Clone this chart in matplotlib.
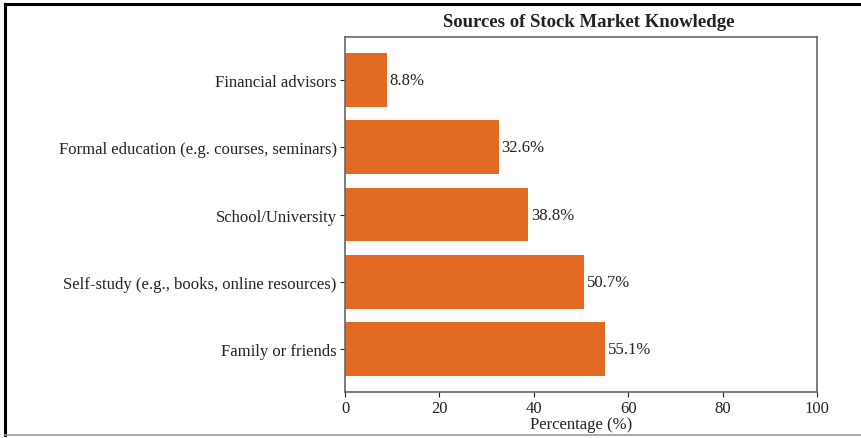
import matplotlib.pyplot as plt
from matplotlib.lines import Line2D

# survey answers: where respondents learned about the stock market
sources = ['Family or friends',
           'Self-study (e.g., books, online resources)',
           'School/University',
           'Formal education (e.g. courses, seminars)',
           'Financial advisors']
percentages = [55.1, 50.7, 38.8, 32.6, 8.8]

plt.rcParams['font.family'] = ['Liberation Serif', 'DejaVu Serif']

fig = plt.figure(figsize=(8.61, 4.39), dpi=100)
ax = fig.add_axes([0.4007, 0.1048, 0.5482, 0.8086])

bars = ax.barh(sources, percentages, color='#E36A23', height=0.8)
for bar, val in zip(bars, percentages):
    ax.annotate(f'{val}%', (bar.get_width(), bar.get_y() + bar.get_height() / 2),
                xytext=(2, 0), textcoords='offset points',
                va='center', ha='left', fontsize=12, color='#222222')

ax.set_xlim(0, 100)
ax.set_xlabel('Percentage (%)', fontsize=12, labelpad=0, color='#222222')
ax.set_title('Sources of Stock Market Knowledge', fontsize=13.5, fontweight='bold',
             pad=8, color='#222222', x=0.517)
ax.tick_params(labelsize=12, colors='#222222', pad=2.5)
for s in ax.spines.values():
    s.set_color('#666666')
    s.set_linewidth(1.2)

# frame lines around the figure
fig.add_artist(Line2D([5/861, 1], [1 - 5/439, 1 - 5/439], color='black', lw=2.2,
                      transform=fig.transFigure))
fig.add_artist(Line2D([5/861, 5/861], [1 - 5/439, 3/439], color='black', lw=2.2,
                      transform=fig.transFigure))
fig.add_artist(Line2D([5/861, 1], [3/439, 3/439], color='#999999', lw=1.2,
                      transform=fig.transFigure))

fig.savefig('out.png', dpi=100)
